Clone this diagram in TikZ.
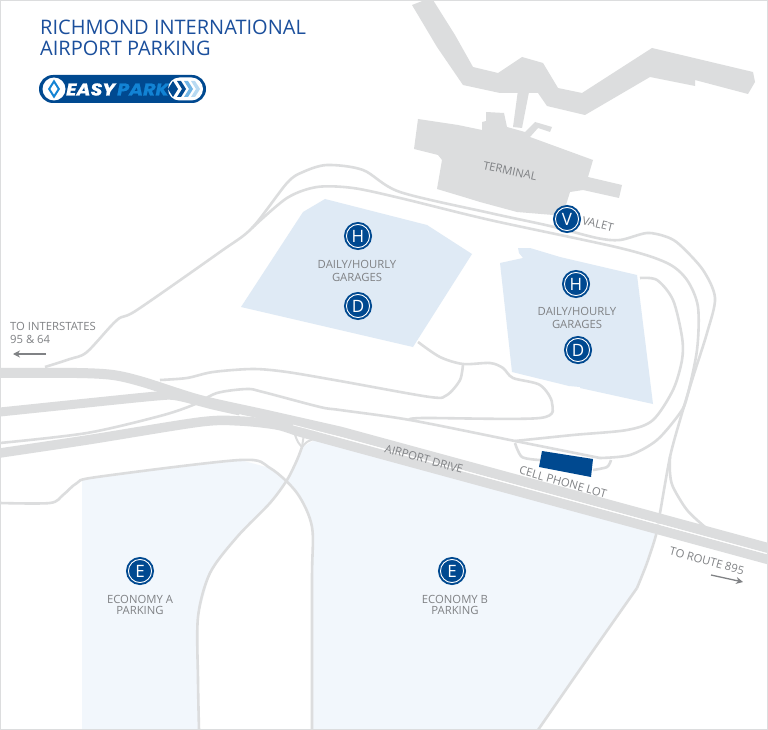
\documentclass[tikz,border=0pt]{standalone}
\usepackage{fontspec}
\setmainfont{Open Sans}
\newfontfamily\logofont[BoldItalicFeatures={FakeBold=1.3,FakeStretch=1.12}]{Poppins}
\usetikzlibrary{arrows.meta}
\definecolor{roadgray}{HTML}{DCDDDE}
\definecolor{mapgray}{HTML}{808285}
\definecolor{parkblue}{HTML}{004990}
\definecolor{titleblue}{HTML}{1B4F9C}
\definecolor{garagefill}{HTML}{DFEAF5}
\definecolor{economyfill}{HTML}{F2F7FC}
\definecolor{parkcyan}{HTML}{1283D4}
\tikzset{
	road/.style={draw=roadgray,line width=2.6pt,line join=round},
	highway/.style={draw=roadgray,line join=round},
	maptext/.style={text=mapgray,font=\fontsize{11.3}{13.5}\selectfont,align=center,inner sep=0pt},
	badge/.style={circle,fill=parkblue,draw=parkblue,line width=2pt,double=white,double distance=0.9pt,
		minimum size=23.1pt,inner sep=0pt,text=white,font=\fontsize{17}{17}\selectfont},
	logotext/.style={inner sep=0pt,anchor=west,font=\fontsize{17}{17}\logofont\bfseries\itshape},
	pointer/.style={-{Stealth[length=7pt,width=7pt]},draw=mapgray,line width=1.3pt}
}
\begin{document}
\begin{tikzpicture}[x=1pt,y=-1pt]
	\useasboundingbox (0,0) rectangle (768,730);
	\fill[white] (0,0) rectangle (768,730);

	%parking areas
	\fill[economyfill] (82,730)--(82,480)--(97,477)--(240,460)--(270,468)--(287,480)--(270,503)--(237,537)
		--(222,555)--(210,573)--(198,617)--(199,730)--cycle;
	\fill[economyfill] (312,730)--(312,527)--(306,508)--(297,493)--(287,480)--(297,460)--(302,447)--(315,440)--(657,528)
		--(647,563)--(637,588)--(538,730)--cycle;
	\fill[garagefill] (325,199)--(303,212)--(241,307)--(413,347)--(472,254)--(427,225)--cycle;
	\fill[garagefill] (518,248)--(530,248)--(560,257)--(637,275)--(653,404)--(580,388)--(580,387)--(569,386)
		--(512,372)--(500,263)--(523,258)--(519,253)--cycle;

	%terminal and concourses
	\fill[roadgray] (412,5)--(425,0)--(433,0)--(455,35)--(473,67)--(498,73)--(522,57)--(543,63)--(558,88)--(582,93)
		--(652,48)--(753,72)--(755,82)--(748,94)--(695,80)--(695,86)--(650,77)--(585,115)--(547,106)--(538,93)
		--(500,93)--(463,85)--(437,47)--cycle;
	\fill[roadgray] (518,90)--(529,92)--(522,128)--(513,127)--cycle;
	\fill[roadgray] (418,119)--(458,125)--(482,130)--(482,122)--(486,121)--(486,112)--(504,113)--(507,127)--(525,132)
		--(535,122)--(552,127)--(550,132)--(538,128)--(530,137)--(593,160)--(588,177)--(622,185)--(619,198)--(583,190)
		--(570,192)--(565,208)--(553,215)--(517,212)--(480,202)--(467,198)--(437,189)--(442,160)--(438,155)--(430,153)--(414,149)--cycle;

	%thin roads
	\draw[road] plot[smooth,tension=0.5] coordinates {(45,367) (70,359) (87,352) (117,320) (137,310) (220,252) (252,228)
		(287,183) (303,172) (327,165) (363,170) (400,192) (490,213) (550,226) (597,238) (620,240) (647,233) (667,237)
		(680,245) (703,270) (715,298) (707,333) (693,377) (680,420) (670,457) (660,513) (656,535) (647,563) (637,588)};
	\draw[road] plot[smooth,tension=0.5] coordinates {(637,588) (590,655) (538,730)};
	\draw[road] plot[smooth,tension=0.5] coordinates {(252,228) (287,198) (317,187) (353,188) (400,198) (490,220)
		(620,248) (667,263) (687,280) (698,307) (697,350) (687,397) (680,413) (657,440) (630,455) (600,458)};
	\draw[road] plot[smooth,tension=0.5] coordinates {(640,278) (657,280) (673,300) (682,337) (682,360) (673,390)
		(653,420) (627,430) (573,435) (515,441)};
	\draw[road] plot[smooth,tension=0.5] coordinates {(0,443) (87,433) (160,416) (193,405) (217,393) (247,389) (263,392)
		(320,407) (340,410) (410,420) (515,441) (600,458)};
	\draw[road] plot[smooth,tension=0.5] coordinates {(670,457) (670,473) (673,487) (687,510) (705,527)};
	\draw[road] plot[smooth,tension=0.5] coordinates {(515,443) (522,457) (540,460)};
	\draw[road] plot[smooth,tension=0.5] coordinates {(593,470) (607,467) (611,460)};
	\draw[road] plot[smooth,tension=0.5] coordinates {(418,342) (440,357) (463,364) (490,363) (503,368) (513,378)
		(540,385) (552,403) (540,418) (423,418) (410,420)};
	\draw[road] plot[smooth,tension=0.5] coordinates {(463,364) (460,380) (447,395) (430,397) (340,381) (287,372)
		(253,369) (213,372) (187,378) (160,380)};

	%economy roads
	\draw[road] plot[smooth,tension=0.5] coordinates {(0,503) (50,503) (63,495) (77,483) (97,477) (240,460) (270,468)
		(297,493) (312,527) (312,580) (312,730)};
	\draw[road] plot[smooth,tension=0.5] coordinates {(302,447) (297,460) (287,480) (270,503) (237,537) (210,573)
		(198,617) (198,680) (199,730)};
	\draw[road,line width=2pt] plot[smooth,tension=0.5] coordinates {(295,435) (298,442) (302,447)};
	\draw[road,line width=2pt] plot[smooth,tension=0.5] coordinates {(316,438) (307,442) (302,447)};
	\draw[road,line width=2pt] (304,434)--(302,447);

	%highways
	\draw[highway,line width=9pt] plot[smooth,tension=0.5] coordinates {(0,412) (87,403) (157,396) (177,396) (213,405) (240,411)};
	\draw[highway,line width=10pt] plot[smooth,tension=0.5] coordinates {(0,373) (77,373) (113,375) (143,382) (200,400) (267,415) (340,431.5)} --(768,548);
	\draw[highway,line width=9.5pt] plot[smooth,tension=0.5] coordinates {(0,453) (87,440) (200,422) (240,421) (277,425) (300,432) (340,443)} --(768,559.5);
	\draw[white,line width=0.7pt] (293,425)--(340,437)--(768,554);

	%cell phone lot
	\fill[parkblue] (542,451)--(593,459)--(591,477)--(539,467)--cycle;

	%logo
	\fill[parkblue,rounded corners=14pt] (39,75) rectangle (206,103);
	\fill[white] (54,89) circle (11.5pt);
	\fill[parkcyan] (54,79.5)--(60,89)--(54,98.5)--(48,89)--cycle;
	\fill[white] (54,83.5)--(57.5,89)--(54,94.5)--(50.5,89)--cycle;
	\node[logotext,text=white] (easylabel) at (66,89.5) {EASY};
	\node[logotext,text=parkcyan] (parklabel) at (117,89.5) {PARK};
	\fill[white,rounded corners=11.5pt] (168,77.5) rectangle (203,100.5);
	\fill[parkblue] (173,81)--(178,89)--(173,97)--(168,89)--cycle;
	\fill[parkblue] (177,81)--(181,81)--(186,89)--(181,97)--(177,97)--(182,89)--cycle;
	\fill[parkcyan!60!white] (184,81)--(188,81)--(193,89)--(188,97)--(184,97)--(189,89)--cycle;
	\fill[parkcyan!30!white] (191,81)--(195,81)--(200,89)--(195,97)--(191,97)--(196,89)--cycle;

	%title
	\node[inner sep=0pt,anchor=west,text=titleblue,align=left,font=\fontsize{20}{21}\selectfont] (title) at (40,38)
		{RICHMOND INTERNATIONAL\\AIRPORT PARKING};

	%badges
	\node[badge] (hourlyA) at (358,236) {H};
	\node[badge] (dailyA) at (358,306) {D};
	\node[badge] (valet) at (567,219) {V};
	\node[badge] (hourlyB) at (576,284) {H};
	\node[badge] (dailyB) at (578,350) {D};
	\node[badge] (econA) at (140,571) {E};
	\node[badge] (econB) at (452,571) {E};

	%labels
	\node[maptext] (garageA) at (357,271) {DAILY/HOURLY\\GARAGES};
	\node[maptext] (garageB) at (577,318) {DAILY/HOURLY\\GARAGES};
	\node[maptext,font=\fontsize{11.3}{11}\selectfont] (econAtext) at (140,604.5) {ECONOMY A\\PARKING};
	\node[maptext,font=\fontsize{11.3}{11}\selectfont] (econBtext) at (455,604.5) {ECONOMY B\\PARKING};
	\node[maptext,rotate=-12] (terminal) at (510,171) {TERMINAL};
	\node[maptext,rotate=-14] (valetlabel) at (598,224) {VALET};
	\node[maptext,rotate=-15.5] (airportdrive) at (424,459) {AIRPORT DRIVE};
	\node[maptext,rotate=-15.5] (celllot) at (563,482) {CELL PHONE LOT};
	\node[maptext,rotate=-15] (route) at (707,561) {TO ROUTE 895};
	\node[maptext,align=left,anchor=west] (interstates) at (10,333) {TO INTERSTATES\\95 \& 64};

	%arrows
	\coordinate (westA) at (46,354);
	\coordinate (westB) at (13,354);
	\coordinate (eastA) at (711,575);
	\coordinate (eastB) at (743,582);
	\draw[pointer] (westA)--(westB);
	\draw[pointer] (eastA)--(eastB);

	%frame
	\draw[roadgray,line width=1.6pt] (0,0) rectangle (768,730);
\end{tikzpicture}
\end{document}
